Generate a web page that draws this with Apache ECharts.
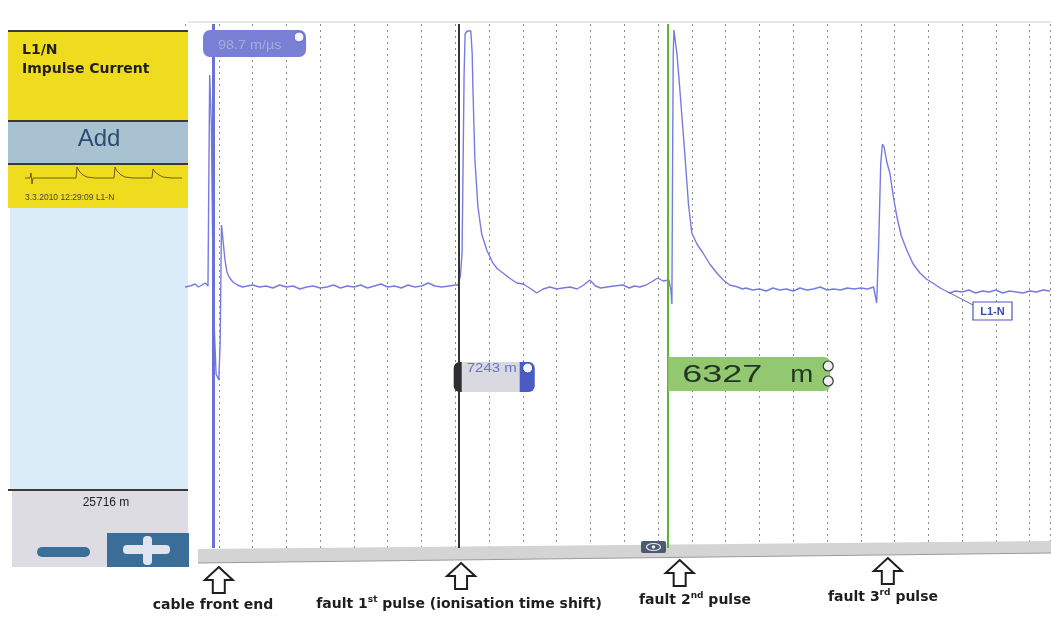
<!DOCTYPE html>
<html>
<head>
<meta charset="utf-8">
<title>L1/N Impulse Current</title>
<script src="https://cdn.jsdelivr.net/npm/echarts@6/dist/echarts.min.js"></script>
<style>
    html, body { margin: 0; padding: 0; background: #fff; }
    #chartmain { width: 1051px; height: 617px; }
</style>
</head>
<body>
<div id="chartmain"></div>
<script>
    // trace points [x, y]: x in 1/10 of a grid division, y in screen units above baseline
    var frontEnd = [[0,-3],[1.5,-2],[3,0],[4,-3],[5,-1],[6,1],[6.8,-2],[7.3,209],[7.8,160],[8.4,-20],[9.2,-90],
        [10.0,-96],[10.4,-60],[10.8,59],[11.2,57],[11.8,25],[12.4,12],[13.2,6],[14.2,2],[15.5,-1],[17,-3],[18.5,-2],
        [20,-1],[22,-3],[24,-2],[26,-4],[28,-1],[30,-3],[32,-2],[34,-5],[36,-3],[38,-2],[40,-4],[42,-3],[44,-1],
        [46,-4],[48,-2],[50,-3],[52,-1],[54,-4],[56,-2],[58,0],[60,-3],[62,-2],[64,-4],[66,-1],[68,-3],[70,-2],
        [72,1],[74,-2],[76,-3],[78,-2],[80,-1]];
    var pulse1 = [[80.8,-1],[81.5,8],[82.0,31],[82.3,120],[82.6,210],[82.9,250],[83.5,253],[84.6,253],[85.0,230],
        [85.2,197],[85.8,124],[86.7,77],[87.8,50],[89.3,34],[91.1,21],[92.5,15],[94.1,11],[96,6],[98.2,1],[100,0],
        [102,-4],[104.1,-9],[106,-5],[108,-3],[110,-5],[111.8,-4],[114,-3],[116,-5],[118,-1],[119.8,4],[121.5,-2],
        [123,-4],[124.9,-3],[127,-2],[129.6,-1],[131.5,-4],[133,-2],[134.6,-3],[136.5,-1],[138,2],[139.9,6],
        [141.5,3],[143.2,4]];
    var pulse2 = [[143.8,-6],[144.1,-20],[144.3,120],[144.5,230],[144.7,254],[145.2,252],[145.6,230],[146.4,197],
        [147.9,131],[149.0,80],[150.0,51],[151.5,40],[153.3,31],[155.3,20],[157.4,11],[159.3,4],[161.2,-1],
        [163.6,-3],[165,-5],[166,-4],[168,-6],[170,-5],[172,-7],[174,-4],[176,-6],[178,-5],[180,-7],[182,-4],
        [184,-6],[186,-5],[188,-3],[190,-6],[192,-5],[194,-6],[196,-4],[198,-5],[200,-4],[202,-5]];
    var pulse3 = [[203.8,-3],[204.7,-19],[205.3,40],[205.9,120],[206.4,140],[206.9,137],[207.7,122],[208.6,111],
        [209.6,88],[210.7,67],[212,48],[213.6,34],[215.5,20],[217.5,11],[219.4,5],[221.3,1],[223.5,-4],[226.3,-9],
        [228,-7],[230,-8],[232,-6],[234,-9],[236,-7],[238,-8],[240,-6],[242,-9],[244,-7],[246,-8],[248,-9],
        [250,-7],[252,-8],[254,-6],[256,-7]];
    var trace = frontEnd.concat(pulse1, pulse2, pulse3);

    // thumbnail trace in the left panel
    var miniTrace = [[0,0],[5,0],[6,5],[7,-6],[8,0],[20,0],[51,0],[52,11],[54,7],[58,3],[62,1],[70,0],[89,0],
        [90,11],[92,7],[96,3],[100,1],[108,0],[127,0],[128,9],[130,6],[134,3],[138,1],[146,0],[157,0]];

    var cursorPos = [8.3, 81.0, 143.0];
    var cursorColor = ['#6c71d8', '#333333', '#5db43a'];
    var cursorText = ['98.7 m/µs', '7243 m', '6327', 'm'];
    var arrowPos = [10.0, 81.7, 146.4, 208.0];
    var arrowTop = [567, 563, 560, 558];
    var arrowLabel = [
        '{b|cable front end}',
        '{b|fault 1}{s|st}{b| pulse (ionisation time shift)}',
        '{b|fault 2}{s|nd}{b| pulse}',
        '{b|fault 3}{s|rd}{b| pulse}'
    ];
    var labelY = [605, 604, 600, 597];
    var labelX = [213, 459, 695, 883];

    var myChart = echarts.init(document.getElementById('chartmain'));
    var option = {
        animation: false,
        backgroundColor: '#fff',
        grid: [
            {left: 185, top: 24, right: 1, bottom: 69},
            {left: 25, top: 160, width: 157, height: 28}
        ],
        xAxis: [
            {
                type: 'value', min: 0, max: 256, interval: 10,
                axisLine: {show: false}, axisTick: {show: false}, axisLabel: {show: false},
                splitLine: {show: true, lineStyle: {color: '#8c8c8c', width: 1, type: [2, 4]}}
            },
            {type: 'value', gridIndex: 1, min: 0, max: 157, show: false}
        ],
        yAxis: [
            {type: 'value', min: -264, max: 260, show: false},
            {type: 'value', gridIndex: 1, min: -10, max: 18, show: false}
        ],
        series: [
            {
                type: 'line',
                data: trace,
                showSymbol: false,
                lineStyle: {color: '#767be0', width: 1.4},
                z: 3,
                markLine: {
                    silent: true,
                    symbol: ['none', 'none'],
                    label: {show: false},
                    data: cursorPos.map(function (v, i) {
                        return {xAxis: v, lineStyle: {color: cursorColor[i], width: i === 0 ? 3 : 2, type: 'solid'}};
                    })
                }
            },
            {
                type: 'line',
                xAxisIndex: 1, yAxisIndex: 1,
                data: miniTrace,
                showSymbol: false,
                lineStyle: {color: '#6e5c1e', width: 1}
            }
        ]
    };
    myChart.setOption(option);

    function px(x) { return myChart.convertToPixel({gridIndex: 0}, [x, 0])[0]; }

    var font = 'DejaVu Sans';
    var g = [];
    // top border of the plot
    g.push({type: 'line', shape: {x1: 188, y1: 22, x2: 1051, y2: 22}, style: {stroke: '#cfcfcf', lineWidth: 1}});

    // left panel
    g.push({type: 'rect', shape: {x: 8, y: 31, width: 180, height: 90}, style: {fill: '#f0dc1e'}});
    g.push({type: 'rect', shape: {x: 8, y: 121, width: 180, height: 43}, style: {fill: '#a9c2d2'}});
    g.push({type: 'rect', shape: {x: 8, y: 164, width: 180, height: 44}, style: {fill: '#f0dc1e'}});
    g.push({type: 'rect', shape: {x: 10, y: 208, width: 178, height: 282}, style: {fill: '#d9ecf8'}});
    g.push({type: 'rect', shape: {x: 12, y: 490, width: 176, height: 77}, style: {fill: '#dcdce2'}});
    [31, 121, 164, 490].forEach(function (y) {
        g.push({type: 'line', shape: {x1: 8, y1: y, x2: 188, y2: y}, style: {stroke: '#3a3a3a', lineWidth: 2}});
    });
    g.push({type: 'text', style: {text: 'L1/N', x: 22, y: 50, font: 'bold 14px ' + font, fill: '#1e1e1e',
        textVerticalAlign: 'middle', verticalAlign: 'middle'}});
    g.push({type: 'text', style: {text: 'Impulse Current', x: 22, y: 69, font: 'bold 14px ' + font, fill: '#1e1e1e',
        textVerticalAlign: 'middle', verticalAlign: 'middle'}});
    g.push({type: 'text', style: {text: 'Add', x: 99, y: 139, font: '24px Liberation Sans', fill: '#2a4d70',
        textAlign: 'center', align: 'center', textVerticalAlign: 'middle', verticalAlign: 'middle'}});
    g.push({type: 'text', style: {text: '3.3.2010 12:29:09 L1-N', x: 25, y: 198, font: '8.5px Liberation Sans',
        fill: '#444', textVerticalAlign: 'middle', verticalAlign: 'middle'}});
    g.push({type: 'text', style: {text: '25716 m', x: 106, y: 503, font: '12px Liberation Sans', fill: '#222',
        textAlign: 'center', align: 'center', textVerticalAlign: 'middle', verticalAlign: 'middle'}});
    g.push({type: 'rect', shape: {x: 37, y: 547, width: 53, height: 10, r: 5}, style: {fill: '#3b6f9a'}});
    g.push({type: 'rect', shape: {x: 107, y: 533, width: 82, height: 34}, style: {fill: '#3a6d97'}});
    g.push({type: 'rect', shape: {x: 123, y: 545, width: 47, height: 9, r: 4}, style: {fill: '#dfe4ef'}});
    g.push({type: 'rect', shape: {x: 143, y: 536, width: 9, height: 29, r: 4}, style: {fill: '#dfe4ef'}});

    // scroll bar under the plot
    g.push({type: 'polygon', shape: {points: [[198, 549], [1051, 541], [1051, 553], [198, 563]]},
        style: {fill: '#d4d4d4'}});
    g.push({type: 'line', shape: {x1: 198, y1: 563, x2: 1051, y2: 553}, style: {stroke: '#9a9a9a', lineWidth: 1}});
    g.push({type: 'rect', shape: {x: 641, y: 541, width: 25, height: 12, r: 2}, style: {fill: '#4b5a70'}});
    g.push({type: 'ellipse', shape: {cx: 653.5, cy: 547, rx: 7, ry: 3.5}, style: {fill: 'none', stroke: '#e8e8f0', lineWidth: 1.2}});
    g.push({type: 'circle', shape: {cx: 653.5, cy: 547, r: 1.8}, style: {fill: '#e8e8f0'}});

    // cursor 1 label
    var c1 = px(cursorPos[0]);
    g.push({type: 'rect', z: 10, shape: {x: c1 - 10, y: 30, width: 103, height: 27, r: 7}, style: {fill: '#7a7fd6'}});
    g.push({type: 'text', z: 11, x: c1 + 5, y: 46, scaleX: 1.2, style: {text: cursorText[0], x: 0, y: 0,
        font: '12px Liberation Sans', fill: '#a7abdc', textVerticalAlign: 'middle', verticalAlign: 'middle'}});
    g.push({type: 'circle', z: 11, shape: {cx: c1 + 86, cy: 37, r: 5}, style: {fill: '#f4f4fb', stroke: '#5a60c8', lineWidth: 1}});

    // cursor 2 label
    var c2 = px(cursorPos[1]);
    g.push({type: 'rect', z: 10, shape: {x: c2 - 4, y: 362, width: 80, height: 30, r: 6}, style: {fill: '#d9d9e2'}});
    g.push({type: 'rect', z: 11, shape: {x: c2 - 5, y: 362, width: 8, height: 30, r: [6, 0, 0, 6]}, style: {fill: '#2e2e2e'}});
    g.push({type: 'rect', z: 11, shape: {x: c2 + 61, y: 362, width: 15, height: 30, r: [0, 6, 6, 0]}, style: {fill: '#4a5bc6'}});
    g.push({type: 'text', z: 12, x: c2 + 8, y: 369, scaleX: 1.25, style: {text: cursorText[1], x: 0, y: 0,
        font: '12px Liberation Sans', fill: '#6a70d4', textVerticalAlign: 'middle', verticalAlign: 'middle'}});
    g.push({type: 'circle', z: 12, shape: {cx: c2 + 69, cy: 368, r: 5}, style: {fill: '#f4f4fb', stroke: '#3a48b0', lineWidth: 1}});

    // cursor 3 label
    var c3 = px(cursorPos[2]);
    g.push({type: 'rect', z: 10, shape: {x: c3, y: 357, width: 162, height: 34, r: [0, 6, 6, 0]}, style: {fill: '#92c870'}});
    g.push({type: 'text', z: 11, x: c3 + 14, y: 375, scaleX: 1.5, style: {text: cursorText[2], x: 0, y: 0,
        font: '24px Liberation Sans', fill: '#263426', textVerticalAlign: 'middle', verticalAlign: 'middle'}});
    g.push({type: 'text', z: 11, x: c3 + 122, y: 375, scaleX: 1.15, style: {text: cursorText[3], x: 0, y: 0,
        font: '24px Liberation Sans', fill: '#263426', textVerticalAlign: 'middle', verticalAlign: 'middle'}});
    g.push({type: 'circle', z: 12, shape: {cx: c3 + 160, cy: 366, r: 5}, style: {fill: '#eef0ee', stroke: '#333', lineWidth: 1.2}});
    g.push({type: 'circle', z: 12, shape: {cx: c3 + 160, cy: 381, r: 5}, style: {fill: '#eef0ee', stroke: '#333', lineWidth: 1.2}});

    // series tag
    g.push({type: 'line', z: 10, shape: {x1: 948, y1: 292, x2: 973, y2: 305}, style: {stroke: '#5a66c8', lineWidth: 1}});
    g.push({type: 'rect', z: 10, shape: {x: 973, y: 302, width: 39, height: 18}, style: {fill: '#fff', stroke: '#4a5ac0', lineWidth: 1.2}});
    g.push({type: 'text', z: 11, style: {text: 'L1-N', x: 992.5, y: 311.5, font: 'bold 11px Liberation Sans', fill: '#3a4ab0',
        textAlign: 'center', align: 'center', textVerticalAlign: 'middle', verticalAlign: 'middle'}});

    // annotation arrows and captions
    arrowPos.forEach(function (v, i) {
        var cx = px(v), t = arrowTop[i];
        g.push({type: 'polygon', shape: {points: [[cx, t], [cx + 14, t + 13], [cx + 6, t + 13], [cx + 6, t + 26],
            [cx - 6, t + 26], [cx - 6, t + 13], [cx - 14, t + 13]]},
            style: {fill: '#fff', stroke: '#1e1e1e', lineWidth: 2}});
        g.push({type: 'text', style: {text: arrowLabel[i], x: labelX[i], y: labelY[i],
            textAlign: 'center', align: 'center', textVerticalAlign: 'middle', verticalAlign: 'middle',
            rich: {
                b: {fontSize: 14, fontWeight: 'bold', fontFamily: font, fill: '#1e1e1e', lineHeight: 18},
                s: {fontSize: 9, fontWeight: 'bold', fontFamily: font, fill: '#1e1e1e', lineHeight: 18, verticalAlign: 'top'}
            }}});
    });

    myChart.setOption({graphic: g});
</script>
</html>
